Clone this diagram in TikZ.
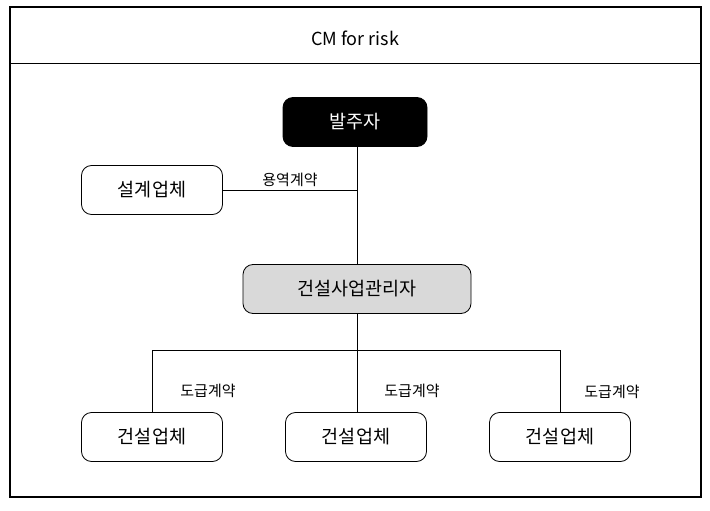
\documentclass[tikz,border=0pt]{standalone}
\usepackage{fontspec}
\setmainfont{Noto Sans CJK KR}
\usetikzlibrary{arrows.meta,calc,positioning}

\definecolor{cmgray}{HTML}{D9D9D9}

\tikzset{
    orgbox/.style={draw, thick, rounded corners=10pt, minimum height=49pt, align=center, font=\fontsize{18.5}{22}\selectfont},
    darkbox/.style={orgbox, fill=black, text=white, minimum width=144pt},
    cmbox/.style={orgbox, fill=cmgray, minimum width=228pt},
    firmbox/.style={orgbox, fill=white, minimum width=141pt},
    deal/.style={font=\fontsize{15}{18}\selectfont, inner sep=1pt}
}

\begin{document}
\begin{tikzpicture}[x=1pt, y=1pt, thick]

    % 전체 크기 고정
    \useasboundingbox (0,0) rectangle (710,-511);

    % 1. 바깥 틀과 제목줄
    \draw[line width=1.4pt] (10,-7) rectangle (701,-497);
    \draw (10,-63) -- (701,-63);
    \node[font=\fontsize{18}{21}\selectfont] (title) at (355,-38) {CM for risk};

    % 2. 상자들
    \node[darkbox] (owner) at (355,-122) {발주자};
    \node[firmbox] (design) at (152,-190) {설계업체};
    \node[cmbox] (cm) at (357,-289) {건설사업관리자};
    \node[firmbox] (con1) at (152,-437) {건설업체};
    \node[firmbox] (con2) at (356,-437) {건설업체};
    \node[firmbox] (con3) at (560,-437) {건설업체};

    % 3. 발주자 - 건설사업관리자, 설계업체 연결
    \draw (owner.south -| cm) -- (cm.north);
    \coordinate (joint) at (design.east -| cm.north);
    \draw (design.east) -- (joint);
    \node[deal] (service) at (290,-180) {용역계약};

    % 4. 건설업체로 가는 분기
    \coordinate (bus) at (357,-350);
    \draw (con1.north) -- (con1.north |- bus) -- (con3.north |- bus) -- (con3.north);
    \draw (cm.south) -- (cm.south |- con2.north);

    % 도급계약 표시
    \node[deal] (deal1) at (208,-391) {도급계약};
    \node[deal] (deal2) at (412,-391) {도급계약};
    \node[deal] (deal3) at (612,-392) {도급계약};

\end{tikzpicture}
\end{document}
